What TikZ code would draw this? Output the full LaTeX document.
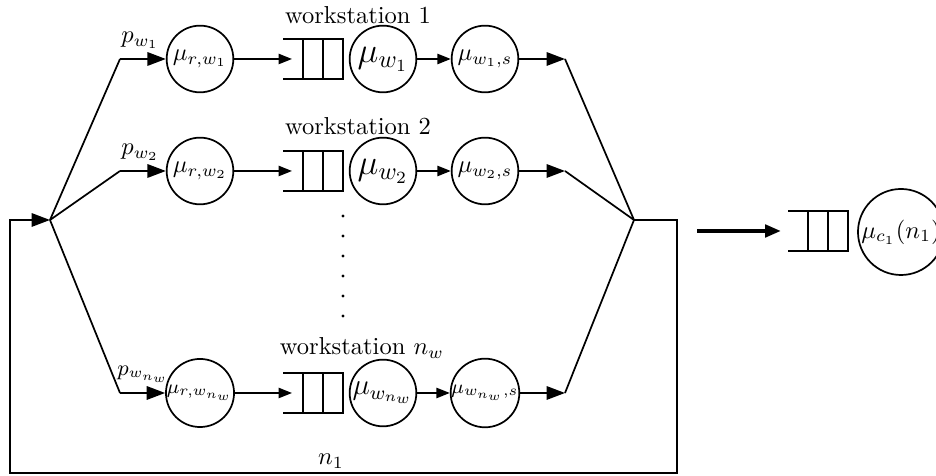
\documentclass[tikz,border=0pt]{standalone}
\usetikzlibrary{arrows.meta}
\tikzset{
  server/.style={draw, circle, line width=0.7pt, minimum size=27.2pt, inner sep=0pt},
  flow/.style={line width=0.7pt, -{Triangle[length=7.5pt,width=5.5pt]}},
  innerflow/.style={line width=0.7pt, -{Triangle[length=5.5pt,width=4.2pt]}},
  link/.style={line width=0.7pt},
  queuebox/.pic={
    \draw[line width=0.7pt] (-30,-20) -- (30,-20) -- (30,20) -- (-30,20);
    \draw[line width=0.7pt] (-10,-20) -- (-10,20) (10,-20) -- (10,20);
    \coordinate (-in) at (-21,0);
  }
}
\begin{document}
\begin{tikzpicture}[x=0.408pt,y=-0.408pt]
    \useasboundingbox (0,0) rectangle (936,476);

    \coordinate (split) at (50,220);
    \coordinate (merge) at (634,220);
    \coordinate (loopA) at (677,220);
    \coordinate (loopB) at (677,473);
    \coordinate (loopC) at (10,473);
    \coordinate (loopD) at (10,220);

    % Workstation 1
    \coordinate (in1) at (120,59);
    \coordinate (out1) at (565,59);
    \node[server] (r1) at (200,59) {$\mu_{r,w_1}$};
    \pic (q1) at (313,59) {queuebox};
    \node[server] (w1) at (383,59) {\Large$\mu_{w_1}$};
    \node[server] (s1) at (485,59) {$\mu_{w_1,s}$};
    \node at (358,15) {workstation 1};
    \node[anchor=south west, inner sep=0pt] at (121,49) {$p_{w_1}$};

    % Workstation 2
    \coordinate (in2) at (120,171);
    \coordinate (out2) at (565,171);
    \node[server] (r2) at (200,171) {$\mu_{r,w_2}$};
    \pic (q2) at (313,171) {queuebox};
    \node[server] (w2) at (383,171) {\Large$\mu_{w_2}$};
    \node[server] (s2) at (485,171) {$\mu_{w_2,s}$};
    \node at (358,126) {workstation 2};
    \node[anchor=south west, inner sep=0pt] at (121,161) {$p_{w_2}$};

    % Workstation n_w
    \coordinate (in3) at (120,393);
    \coordinate (out3) at (565,393);
    \node[server] (r3) at (200,393) {\footnotesize$\mu_{r,w_{n_w}}$};
    \pic (q3) at (313,393) {queuebox};
    \node[server] (w3) at (383,393) {\large$\mu_{w_{n_w}}$};
    \node[server] (s3) at (485,393) {\footnotesize$\mu_{w_{n_w},s}$};
    \node at (362,348) {workstation $n_w$};
    \node[anchor=south west, inner sep=0pt] at (117,383) {\small$p_{w_{n_w}}$};

    % Dots
    \foreach \y in {216,236,...,316}
        \fill (343,\y) circle (1.6);

    % Routing
    \foreach \i in {1,2,3} {
        \draw[link] (split) -- (in\i);
        \draw[flow] (in\i) -- (r\i);
        \draw[innerflow] (r\i) -- (q\i-in);
        \draw[innerflow] (w\i) -- (s\i);
        \draw[flow] (s\i) -- (out\i);
        \draw[link] (out\i) -- (merge);
    }

    % Closed loop
    \draw[flow] (merge) -- (loopA) -- (loopB) -- (loopC) -- (loopD) -- (split);
    \node at (331,461) {$n_1$};

    % Aggregated station
    \coordinate (aggA) at (697,231);
    \coordinate (aggB) at (781,231);
    \draw[line width=1.6pt, -{Triangle[length=6.5pt,width=5pt]}] (aggA) -- (aggB);
    \pic (qc) at (818,231) {queuebox};
    \node[server, minimum size=35.1pt] (c1) at (901,232) {$\mu_{c_1}(n_1)$};
\end{tikzpicture}
\end{document}
